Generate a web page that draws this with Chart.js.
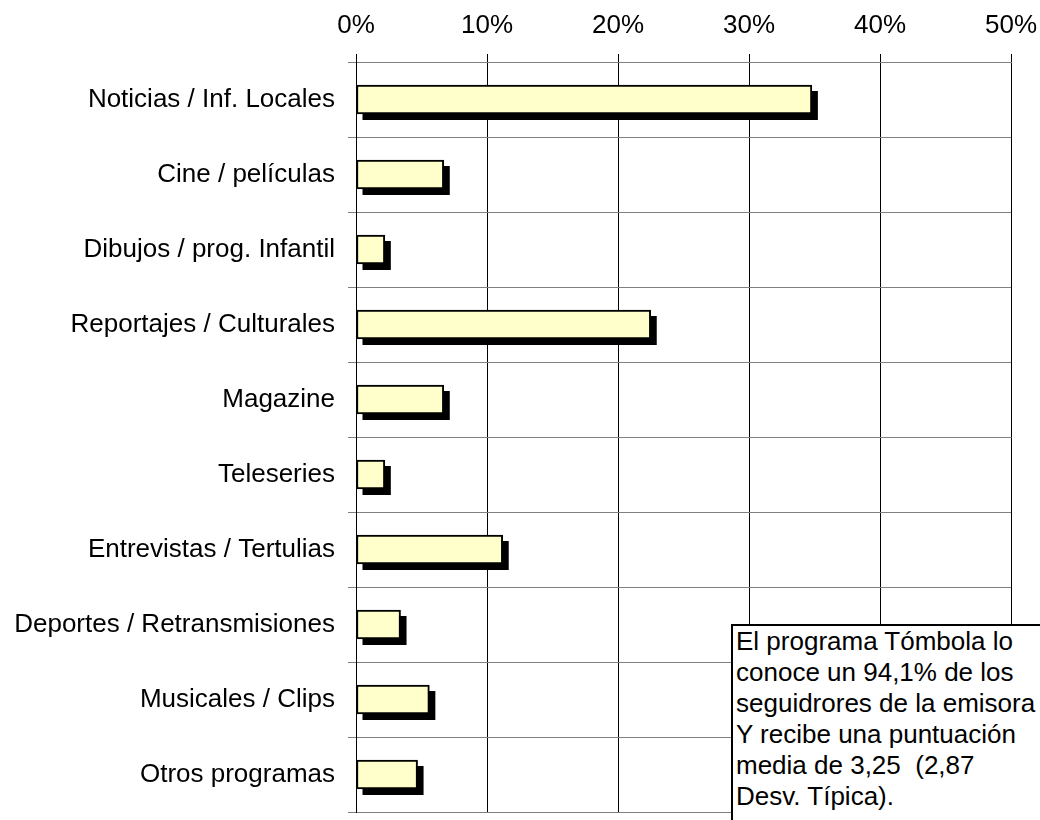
<!DOCTYPE html>
<html>
<head>
<meta charset="utf-8">
<script src="https://cdn.jsdelivr.net/npm/chart.js@4/dist/chart.umd.min.js"></script>
<style>
  body { margin: 0; background: #fff; overflow: hidden; }
  #wrap { position: relative; width: 1040px; height: 820px; overflow: hidden; }
  #prefChart { display: block; }
  #note {
    position: absolute; left: 731px; top: 624px; width: 340px; height: 240px;
    background: #fff; border: 2px solid #000; padding-left: 3px;
    font-family: "Liberation Sans", Arial, sans-serif; font-size: 26px; line-height: 31px;
    color: #000; white-space: nowrap;
  }
</style>
</head>
<body>
<div id="wrap">
  <canvas id="prefChart" width="1040" height="820"></canvas>
  <div id="note"></div>
</div>
<script>
const categories = [
  'Noticias / Inf. Locales',
  'Cine / películas',
  'Dibujos / prog. Infantil',
  'Reportajes / Culturales',
  'Magazine',
  'Teleseries',
  'Entrevistas / Tertulias',
  'Deportes / Retransmisiones',
  'Musicales / Clips',
  'Otros programas'
];
const percentages = [34.8, 6.7, 2.2, 22.5, 6.7, 2.2, 11.2, 3.4, 5.6, 4.7];
const noteLines = [
  'El programa Tómbola lo',
  'conoce un 94,1% de los',
  'seguidrores de la emisora',
  'Y recibe una puntuación',
  'media de 3,25\u00a0 (2,87',
  'Desv. Típica).'
];

const FONT = '"Liberation Sans", Arial, sans-serif';

document.getElementById('note').innerHTML = noteLines.join('<br>');

// black drop shadow behind each bar
const barShadow = {
  id: 'barShadow',
  beforeDatasetsDraw(chart) {
    const ctx = chart.ctx;
    const meta = chart.getDatasetMeta(0);
    ctx.save();
    ctx.fillStyle = '#000';
    meta.data.forEach(bar => {
      const p = bar.getProps(['x', 'y', 'base', 'height'], true);
      ctx.fillRect(p.base + 6, p.y - p.height / 2 + 6, p.x - p.base, p.height);
    });
    ctx.restore();
  }
};

let makeChart = function() {
  const ctx = document.getElementById('prefChart');

  new Chart(ctx, {
    type: 'bar',
    data: {
      labels: categories,
      datasets: [{
        data: percentages,
        backgroundColor: '#FFFFCC',
        borderColor: '#000',
        borderWidth: 2,
        borderSkipped: false,
        barThickness: 29,
      }]
    },
    options: {
      indexAxis: 'y',
      responsive: false,
      animation: false,
      layout: { padding: { top: 0, right: 29, bottom: 8, left: 0 } },
      plugins: {
        legend: { display: false },
        tooltip: { enabled: false },
      },
      scales: {
        x: {
          position: 'top',
          min: 0,
          max: 50,
          afterFit: s => { s.height = 62; s.paddingLeft = 0; s.paddingRight = 0; },
          ticks: {
            stepSize: 10,
            padding: 13,
            color: '#000',
            font: { family: FONT, size: 26 },
            callback: v => v + '%',
          },
          grid: { color: '#000', lineWidth: 1, tickLength: 8 },
          border: { color: '#808080', width: 1 },
        },
        y: {
          afterFit: s => { s.width = 356; s.paddingTop = 0; s.paddingBottom = 0; },
          ticks: {
            padding: 13,
            color: '#000',
            font: { family: FONT, size: 26 },
          },
          grid: { color: '#808080', lineWidth: 1, tickLength: 8 },
          border: { color: '#000', width: 1 },
        },
      }
    },
    plugins: [barShadow]
  });
}

document.addEventListener('DOMContentLoaded', makeChart, false);
</script>
</body>
</html>
